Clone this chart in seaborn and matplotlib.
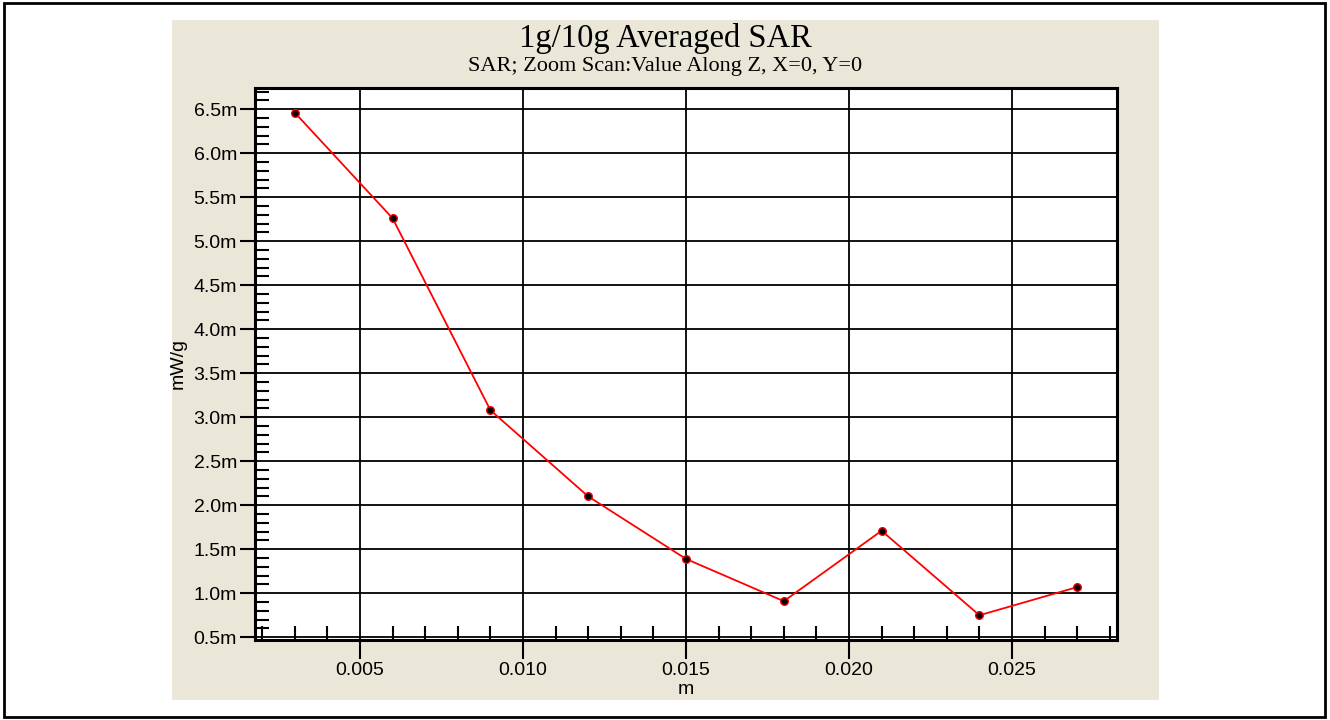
import numpy as np
import pandas as pd
import matplotlib
matplotlib.use("Agg")
import matplotlib.pyplot as plt
import seaborn as sns
from matplotlib.patches import Rectangle
from matplotlib.ticker import MultipleLocator, FuncFormatter

# ---------------------------------
# DATA
# ---------------------------------
z_pos = [0.003, 0.006, 0.009, 0.012, 0.015, 0.018, 0.021, 0.024, 0.027]
sar_mw = [6.46, 5.26, 3.08, 2.10, 1.39, 0.91, 1.71, 0.75, 1.07]   # in milli mW/g
x_ticks = [0.005, 0.010, 0.015, 0.020, 0.025]
y_ticks = [0.5, 1.0, 1.5, 2.0, 2.5, 3.0, 3.5, 4.0, 4.5, 5.0, 5.5, 6.0, 6.5]

df = pd.DataFrame({"z": z_pos, "sar": np.array(sar_mw) * 1e-3})

# ---------------------------------
# FIGURE
# ---------------------------------
sns.set_theme(style="white")
plt.rcParams['font.family'] = ['Liberation Sans', 'DejaVu Sans']

fig = plt.figure(figsize=(13.3, 7.2), dpi=100)
W, H = 1330, 720

# outer frame + beige panel
fig.patches.append(Rectangle((4 / W, 3 / H), 1321 / W, 714 / H, transform=fig.transFigure,
                             fill=False, edgecolor="black", linewidth=2, zorder=-10))
fig.patches.append(Rectangle((172 / W, 1 - 700 / H), 987 / W, 680 / H, transform=fig.transFigure,
                             facecolor="#EAE7D8", edgecolor="none", zorder=-10))

ax = fig.add_axes([255 / W, 1 - 640 / H, 862 / W, 552 / H])
ax.set_zorder(5)
ax.set_facecolor("white")

sns.lineplot(data=df, x="z", y="sar", ax=ax, color="red", linewidth=1.3,
             marker="o", markersize=5.5, markerfacecolor="black",
             markeredgecolor="red", markeredgewidth=1.0, zorder=5)

ax.set_xlim(0.00178, 0.02822)
ax.set_ylim(0.469e-3, 6.74e-3)

ax.set_xticks(x_ticks)
ax.set_yticks(np.array(y_ticks) * 1e-3)
ax.xaxis.set_minor_locator(MultipleLocator(0.001))
ax.yaxis.set_minor_locator(MultipleLocator(0.1e-3))
ax.xaxis.set_major_formatter(FuncFormatter(lambda v, p: f"{v:.3f}"))
ax.yaxis.set_major_formatter(FuncFormatter(lambda v, p: f"{v * 1000:.1f}m"))

ax.grid(True, which="major", color="black", linewidth=1.3)
ax.tick_params(axis="both", which="major", direction="out", length=11, width=1.5,
               colors="black", labelsize=14, labelcolor="black", pad=2)
ax.tick_params(axis="both", which="minor", direction="in", length=10, width=1.5,
               colors="black")
ax.tick_params(axis="x", which="major", length=14)
ax.tick_params(left=True, bottom=True, which="both")

for s in ax.spines.values():
    s.set_color("black")
    s.set_linewidth(2.2)

ax.set_xlabel("m", fontsize=14, color="black", labelpad=1)
ax.set_ylabel("mW/g", fontsize=14, color="black", labelpad=5)

fig.text((172 + 1159) / 2 / W, 1 - 38 / H, "1g/10g Averaged SAR", ha="center", va="center",
         fontsize=23.5, family="Liberation Serif", color="black")
fig.text((172 + 1159) / 2 / W, 1 - 67 / H, "SAR; Zoom Scan:Value Along Z, X=0, Y=0",
         ha="center", va="center", fontsize=16, family="Liberation Serif", color="black")

fig.savefig("out.png", dpi=100, facecolor="white")
